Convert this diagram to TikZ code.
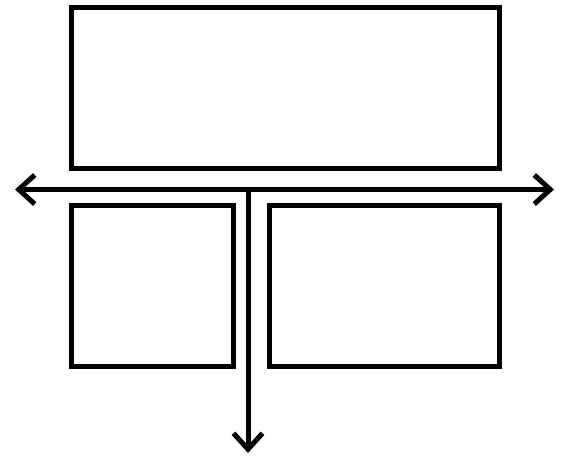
\documentclass[tikz,border=0pt]{standalone}
\usepackage{tikz}
\usetikzlibrary{arrows.meta}

\begin{document}
\begin{tikzpicture}[
    panel/.style={draw, line width=1mm, inner sep=0pt, outer sep=0pt, anchor=north west, minimum height=3.22cm},
    axis/.style={line width=1mm, arrows={-Straight Barb[length=3.2mm, width=5.8mm]}}
]

    % Fix the page to the reference size
    \useasboundingbox (0,0) rectangle (11.28,9.14);

    % The three panels
    \node[panel, minimum width=8.57cm] (top) at (1.42,9.0) {};
    \node[panel, minimum width=3.24cm] (left) at (1.42,5.04) {};
    \node[panel, minimum width=4.61cm] (right) at (5.38,5.04) {};

    % End points of the arrows
    \coordinate (west) at (0.30,5.35);
    \coordinate (east) at (11.08,5.35);
    \coordinate (split) at (4.96,5.35);
    \coordinate (south) at (4.96,0.08);

    % Horizontal arrow, both ways
    \draw[axis, arrows={Straight Barb[length=3.2mm, width=5.8mm]-Straight Barb[length=3.2mm, width=5.8mm]}] (west) -- (east);

    % Vertical arrow down between the lower panels
    \draw[axis] (split) -- (south);

\end{tikzpicture}
\end{document}
